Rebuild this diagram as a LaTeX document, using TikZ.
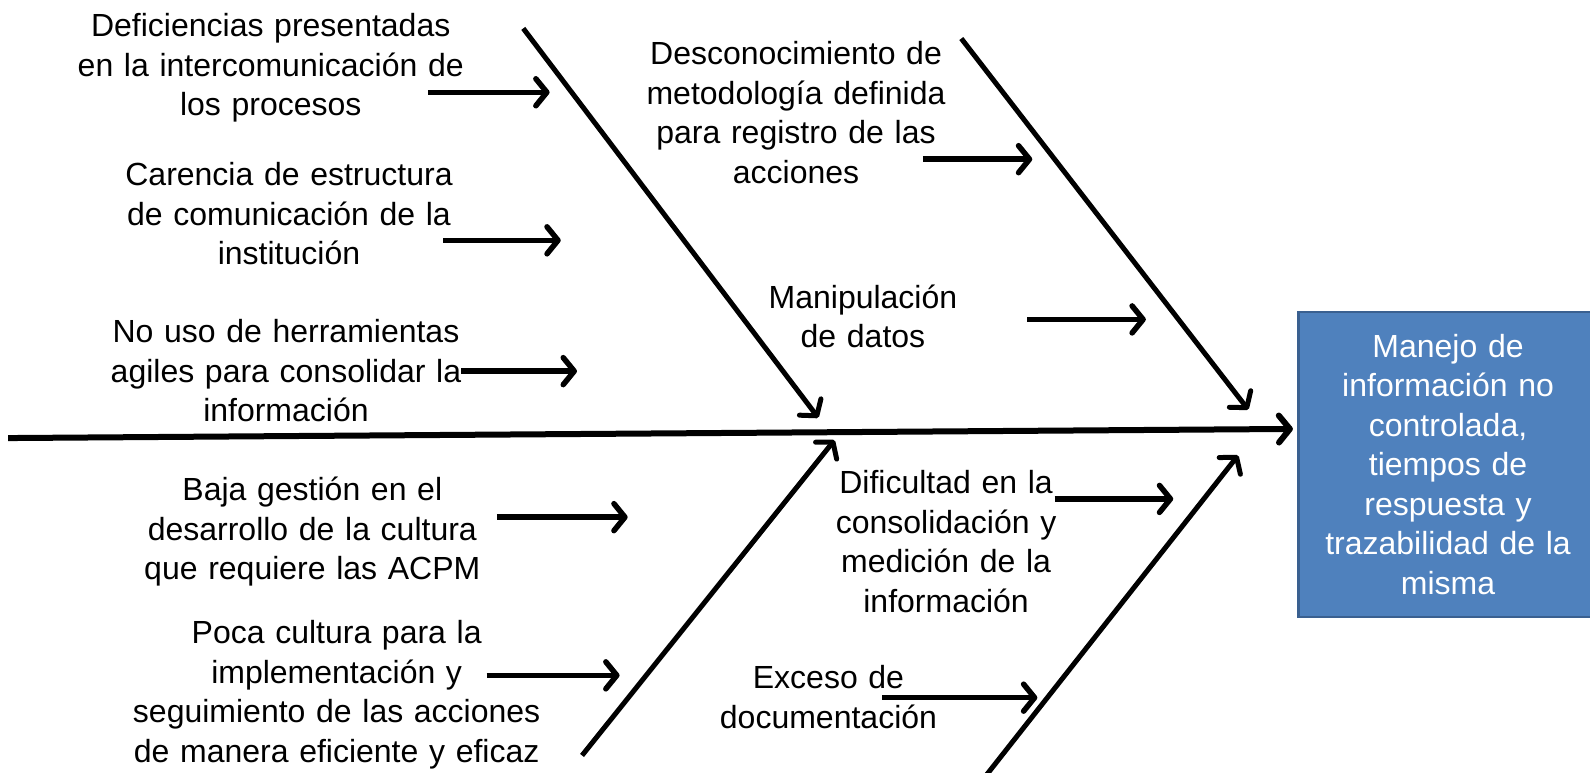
\documentclass[tikz,border=0pt]{standalone}
\usepackage{fontspec}
\setmainfont{Liberation Sans}
\usetikzlibrary{arrows.meta}
\definecolor{boxfill}{HTML}{4F81BD}
\definecolor{boxline}{HTML}{3A6090}
\begin{document}
\begin{tikzpicture}[x=1.01403pt,y=-1.01403pt,
  lbl/.style={anchor=base, inner sep=0pt, text width=480pt, align=center,
    font=\fontsize{32}{39.5}\selectfont},
  tip/.style={-{Straight Barb[length=11pt,width=27pt,line width=#1,round]}},
  spine/.style={line width=6pt, tip=6pt},
  bone/.style={line width=5pt, tip=5pt},
  cause/.style={line width=5.5pt, tip=5.5pt},
  effbox/.style={draw=boxline, line width=2.5pt, fill=boxfill, text=white,
    minimum width=299pt, minimum height=305pt, inner sep=0pt,
    text width=280pt, align=center, font=\fontsize{32}{39.5}\selectfont}
]
\useasboundingbox (0,0) rectangle (1568,762);

% effect box
\node[effbox] (eff) at (1428,458) {Manejo de\\información no\\controlada,\\tiempos de\\respuesta y\\trazabilidad de la\\misma};

% spine
\coordinate (s0) at (8,432);
\coordinate (s1) at (1275,423);
\draw[spine] (s0) -- (s1);

% bones
\coordinate (b1a) at (516,28);   \coordinate (b1b) at (807,412);
\coordinate (b2a) at (948,38);   \coordinate (b2b) at (1231,404);
\coordinate (b3a) at (574,745);  \coordinate (b3b) at (823,434);
\coordinate (b4a) at (973,764);  \coordinate (b4b) at (1221,449);
\draw[bone] (b1a) -- (b1b);
\draw[bone] (b2a) -- (b2b);
\draw[bone] (b3a) -- (b3b);
\draw[bone] (b4a) -- (b4b);

% labels
\node[lbl] (def) at (267,36) {Deficiencias presentadas\\en la intercomunicación de\\los procesos};
\node[lbl] (car) at (285,183) {Carencia de estructura\\de comunicación de la\\institución};
\node[lbl] (nou) at (282,338) {No uso de herramientas\\agiles para consolidar la\\información};
\node[lbl] (des) at (785,64) {Desconocimiento de\\metodología definida\\para registro de las\\acciones};
\node[lbl] (man) at (851,304) {Manipulación\\de datos};
\node[lbl] (baj) at (308,494) {Baja gestión en el\\desarrollo de la cultura\\que requiere las ACPM};
\node[lbl] (poc) at (332,635) {Poca cultura para la\\implementación y\\seguimiento de las acciones\\de manera eficiente y eficaz};
\node[lbl] (dif) at (933,487) {Dificultad en la\\consolidación y\\medición de la\\información};
\node[lbl] (exc) at (817,679) {Exceso de\\documentación};

% cause arrows
\coordinate (c1a) at (422,91);   \coordinate (c1b) at (542,91);
\coordinate (c2a) at (437,237);  \coordinate (c2b) at (553,237);
\coordinate (c3a) at (455,366);  \coordinate (c3b) at (569,366);
\coordinate (c4a) at (910,157);  \coordinate (c4b) at (1018,157);
\coordinate (c5a) at (1013,315); \coordinate (c5b) at (1130,315);
\coordinate (c6a) at (490,510);  \coordinate (c6b) at (619,510);
\coordinate (c7a) at (480,666);  \coordinate (c7b) at (611,666);
\coordinate (c8a) at (1040,492); \coordinate (c8b) at (1157,492);
\coordinate (c9a) at (870,688);  \coordinate (c9b) at (1023,688);
\foreach \i in {1,...,9} {\draw[cause] (c\i a) -- (c\i b);}
\end{tikzpicture}
\end{document}
